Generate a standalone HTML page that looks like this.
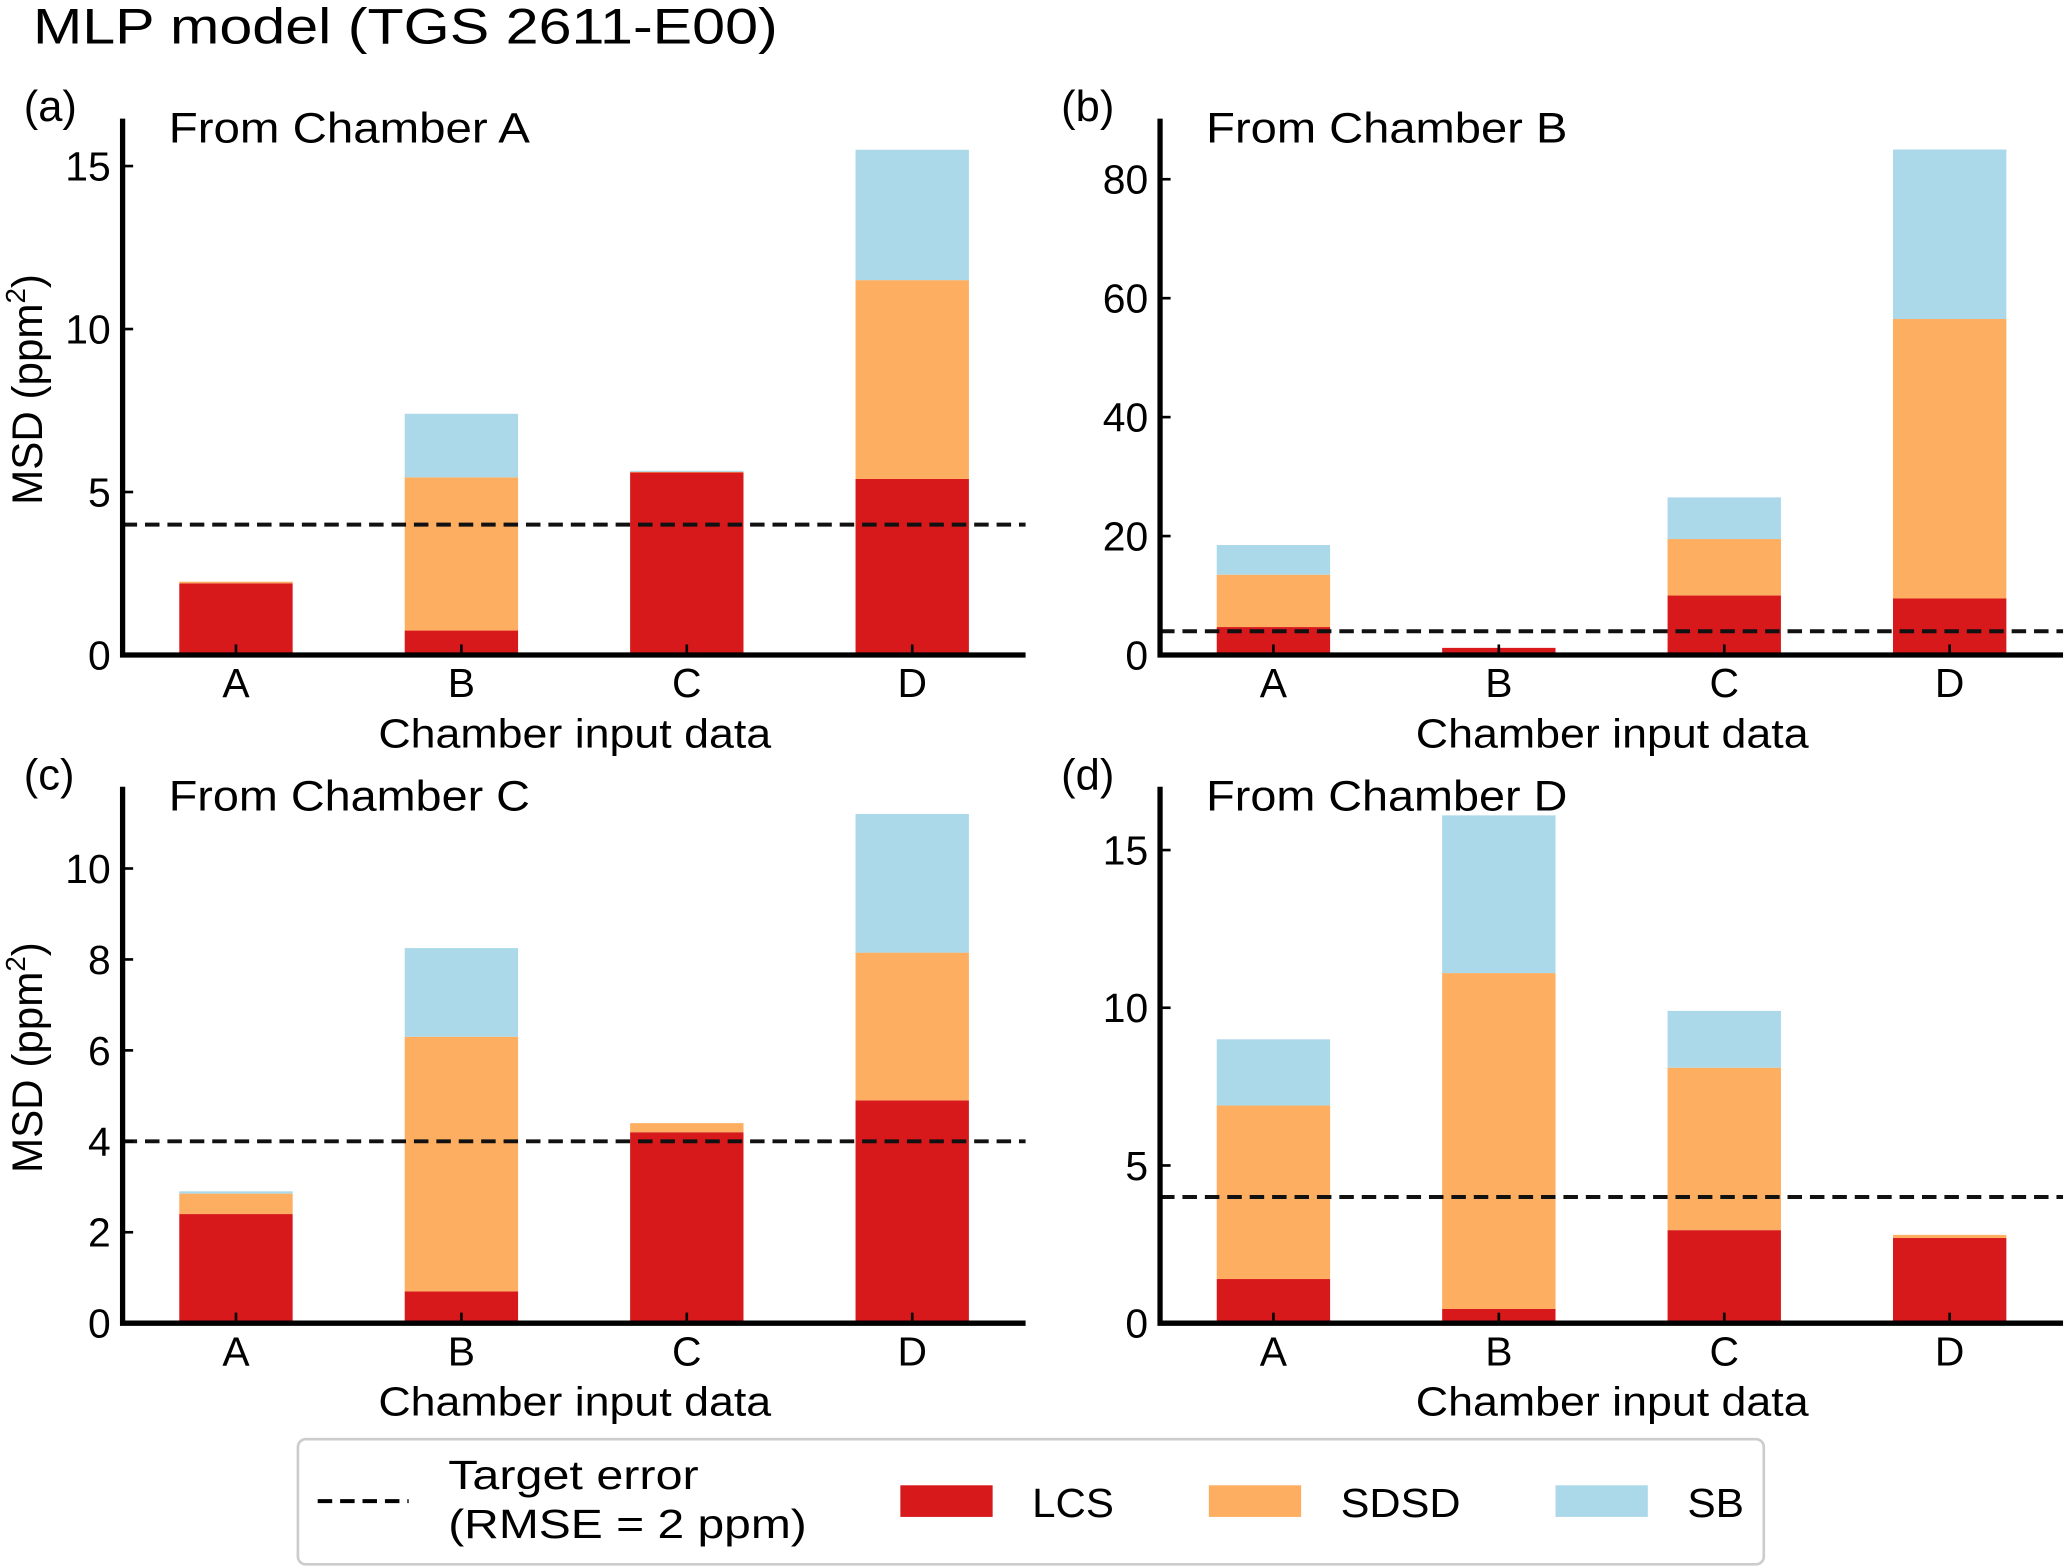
<!DOCTYPE html>
<html><head><meta charset="utf-8"><style>
html,body{margin:0;padding:0;background:#fff}
svg{display:block}
text{font-family:"Liberation Sans",sans-serif;fill:#000}
</style></head><body>
<svg id="fig" width="2067" height="1567" viewBox="0 0 1568 1189" preserveAspectRatio="none" xmlns="http://www.w3.org/2000/svg">
<text x="25" y="33" font-size="38" textLength="565" lengthAdjust="spacingAndGlyphs">MLP model (TGS 2611-E00)</text>
<g id="panels"></g>
<g>
<rect x="226" y="1092" width="1112" height="95" rx="6" fill="#fff" stroke="#ccc" stroke-width="2"/>
<line x1="241" y1="1139" x2="310" y2="1139" stroke="#000" stroke-width="3" stroke-dasharray="11,6"/>
<text x="340" y="1130" font-size="31" textLength="190" lengthAdjust="spacingAndGlyphs">Target error</text>
<text x="340" y="1167" font-size="31" textLength="272" lengthAdjust="spacingAndGlyphs">(RMSE = 2 ppm)</text>
<rect x="683" y="1127" width="70" height="24" fill="#d7191c"/>
<text x="783" y="1151" font-size="31" textLength="62" lengthAdjust="spacingAndGlyphs">LCS</text>
<rect x="917" y="1127" width="70" height="24" fill="#fdae61"/>
<text x="1017" y="1151" font-size="31" textLength="91" lengthAdjust="spacingAndGlyphs">SDSD</text>
<rect x="1180" y="1127" width="70" height="24" fill="#abd9e9"/>
<text x="1280" y="1151" font-size="31" textLength="43" lengthAdjust="spacingAndGlyphs">SB</text>
</g>
</svg>
<script>
const categories = ["A","B","C","D"];
const lcsA = [2.2, 0.75, 5.6, 5.4];
const sdsdA = [0.05, 4.7, 0.02, 6.1];
const sbA = [0, 1.95, 0.03, 4.0];
const lcsB = [4.7, 1.2, 10, 9.5];
const sdsdB = [8.8, 0, 9.5, 47];
const sbB = [5, 0, 7, 28.5];
const lcsC = [2.4, 0.7, 4.2, 4.9];
const sdsdC = [0.45, 5.6, 0.2, 3.25];
const sbC = [0.05, 1.95, 0, 3.05];
const lcsD = [1.4, 0.45, 2.95, 2.7];
const sdsdD = [5.5, 10.65, 5.15, 0.1];
const sbD = [2.1, 5.0, 1.8, 0];
const ticksA = [0,5,10,15];
const ticksB = [0,20,40,60,80];
const ticksC = [0,2,4,6,8,10];
const ticksD = [0,5,10,15];
const targetMSD = 4;

const NS="http://www.w3.org/2000/svg";
const root=document.getElementById('panels');
function mk(tag,attrs,parent){const e=document.createElementNS(NS,tag);for(const k in attrs)e.setAttribute(k,attrs[k]);parent.appendChild(e);return e;}

const panels=[
 {id:'a',x0:93,y0:497,top:90,ymax:15,ypx:371,ticks:ticksA,lcs:lcsA,sdsd:sdsdA,sb:sbA,title:'From Chamber A',ylab:true},
 {id:'b',x0:880,y0:497,top:90,ymax:80,ypx:361,ticks:ticksB,lcs:lcsB,sdsd:sdsdB,sb:sbB,title:'From Chamber B',ylab:false},
 {id:'c',x0:93,y0:1004,top:597,ymax:10,ypx:345,ticks:ticksC,lcs:lcsC,sdsd:sdsdC,sb:sbC,title:'From Chamber C',ylab:true},
 {id:'d',x0:880,y0:1004,top:597,ymax:15,ypx:359,ticks:ticksD,lcs:lcsD,sdsd:sdsdD,sb:sbD,title:'From Chamber D',ylab:false}
];
panels.forEach(p=>{
 const g=mk('g',{},root);
 
 
 const ys=v=>p.y0-v*p.ypx/p.ymax;
 const xs=i=>p.x0+86+i*171;
 const bw=86;
 categories.forEach((c,i)=>{
  const segs=[[p.lcs[i],'#d7191c','lcs'],[p.sdsd[i],'#fdae61','sdsd'],[p.sb[i],'#abd9e9','sb']];
  let base=0;
  segs.forEach(s=>{
   if(s[0]<=0)return;
   const r=mk('rect',{x:xs(i)-bw/2,y:ys(base+s[0]),width:bw,height:ys(base)-ys(base+s[0]),fill:s[1]},g);
   
   
   base+=s[0];
  });
  const tk=mk('line',{x1:xs(i),x2:xs(i),y1:p.y0,y2:p.y0-8,stroke:'#000','stroke-width':2},g);
  
  
  const tl=mk('text',{x:xs(i),y:p.y0+32,'font-size':31,'text-anchor':'middle'},g);
  tl.textContent=c;
  
  
 });
 const dl=mk('line',{x1:p.x0,x2:p.x0+685,y1:ys(targetMSD),y2:ys(targetMSD),stroke:'#111','stroke-width':3,'stroke-dasharray':'11,6'},g);
 
 
 p.ticks.forEach(t=>{
  const l=mk('line',{x1:p.x0,x2:p.x0+8,y1:ys(t),y2:ys(t),stroke:'#000','stroke-width':2},g);
  
  
  const tx=mk('text',{x:p.x0-9,y:ys(t)+11,'font-size':31,'text-anchor':'end'},g);
  tx.textContent=t;
  
  
 });
 const ax=mk('path',{d:`M${p.x0} ${p.top} V${p.y0} H${p.x0+685}`,fill:'none',stroke:'#000','stroke-width':4},g);
 
 
 const pl=mk('text',{x:p.x0-75,y:p.top+2,'font-size':33},g);
 pl.textContent='('+p.id+')';
 
 
 const ti=mk('text',{x:p.x0+35,y:p.top+18,'font-size':32,textLength:274,lengthAdjust:'spacingAndGlyphs'},g);
 ti.textContent=p.title;
 
 
 const xl=mk('text',{x:p.x0+194,y:p.y0+70,'font-size':31,textLength:298,lengthAdjust:'spacingAndGlyphs'},g);
 xl.textContent='Chamber input data';
 
 
 if(p.ylab){
  const cy=(p.top+p.y0)/2+2;
  const yl=mk('text',{x:0,y:0,'font-size':32,'text-anchor':'middle',transform:`translate(32 ${cy}) rotate(-90)`},g);
  yl.innerHTML='MSD (ppm<tspan font-size="21" dy="-13">2</tspan><tspan dy="13">)</tspan>';
  
  
 }
});
</script>
</body></html>
